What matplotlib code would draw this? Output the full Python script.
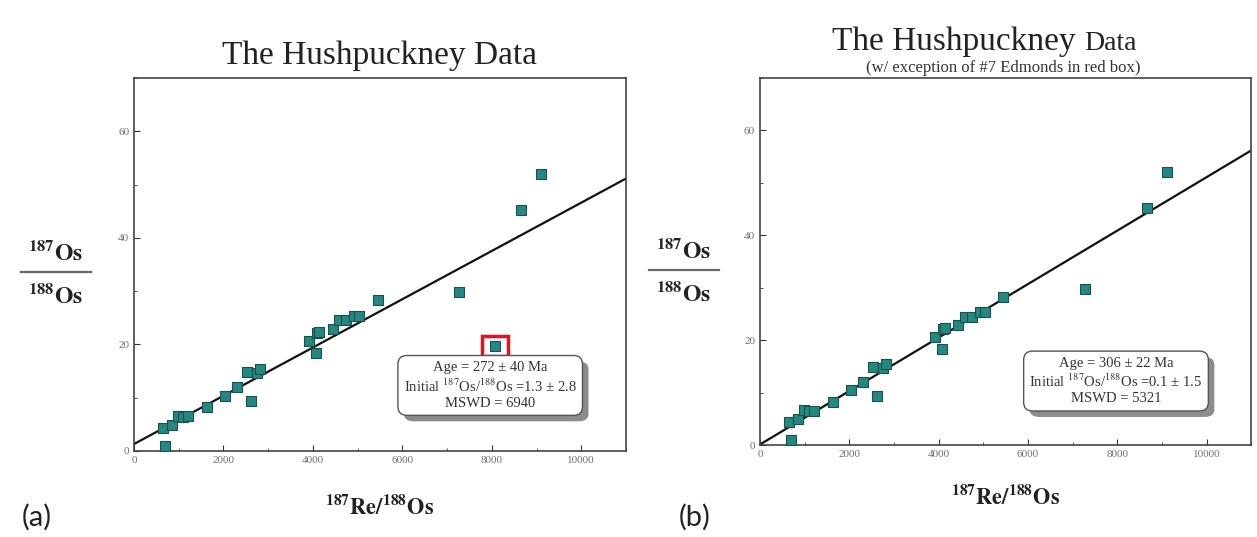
import matplotlib
matplotlib.use("Agg")
import matplotlib.pyplot as plt
from matplotlib.patches import Rectangle, FancyBboxPatch
from matplotlib.lines import Line2D
from matplotlib.ticker import MultipleLocator
import numpy as np

plt.rcParams['font.family'] = ['Liberation Serif', 'DejaVu Serif']
plt.rcParams['mathtext.fontset'] = 'stix'

# 187Re/188Os and 187Os/188Os
re_os = [656, 693, 843, 992, 1103, 1215, 1626, 2036, 2298, 2521, 2610, 2745,
         2819, 3918, 4067, 4090, 4140, 4439, 4589, 4739, 4925, 5037, 5447,
         7276, 8657, 9105]
os_os = [4.3, 0.9, 4.9, 6.6, 6.4, 6.5, 8.2, 10.4, 12.0, 14.8, 9.4, 14.7,
         15.4, 20.6, 18.3, 22.2, 22.4, 22.9, 24.5, 24.5, 25.4, 25.4, 28.3,
         29.8, 45.2, 52.0]

# sample #7 Edmonds (red box, only in panel a)
edmonds_x = 8076
edmonds_y = 19.7

# isochron fits: (intercept, slope)
fit_a = (1.3, 0.00453)
fit_b = (0.1, 0.0051)

stats_a = "Age = 272 ± 40 Ma\nInitial $^{187}$Os/$^{188}$Os =1.3 ± 2.8\nMSWD = 6940"
stats_b = "Age = 306 ± 22 Ma\nInitial $^{187}$Os/$^{188}$Os =0.1 ± 1.5\nMSWD = 5321"

teal = "#23887f"
edge = "#1d4f4b"

fig = plt.figure(figsize=(12.57, 5.37), dpi=100)
ax_a = fig.add_axes([0.1066, 0.1602, 0.3914, 0.6946])
ax_b = fig.add_axes([0.6046, 0.1713, 0.3909, 0.6834])


def style(ax):
    ax.set_xlim(0, 11000)
    ax.set_ylim(0, 70)
    ax.xaxis.set_major_locator(MultipleLocator(2000))
    ax.xaxis.set_minor_locator(MultipleLocator(1000))
    ax.yaxis.set_major_locator(MultipleLocator(20))
    ax.yaxis.set_minor_locator(MultipleLocator(10))
    ax.tick_params(which='both', direction='in', labelsize=8,
                   labelcolor='#707070', color='#333333')
    ax.tick_params(which='major', length=4)
    ax.tick_params(which='minor', length=2.5)
    for s in ax.spines.values():
        s.set_linewidth(1.2)
        s.set_color('#444444')


boxes = []
for ax, fit in ((ax_a, fit_a), (ax_b, fit_b)):
    style(ax)
    xx = np.array([0, 11000])
    ax.plot(xx, fit[0] + fit[1] * xx, color='#111111', lw=1.6, zorder=2)
    ax.scatter(re_os, os_os, marker='s', s=62, c=teal, edgecolors=edge,
               linewidths=0.8, zorder=3)

ax_a.scatter([edmonds_x], [edmonds_y], marker='s', s=62, c=teal,
             edgecolors=edge, linewidths=0.8, zorder=3)
ax_a.add_patch(Rectangle((edmonds_x - 290, edmonds_y - 1.8), 580, 3.6,
                         fill=False, ec='#e0141e', lw=2.5, zorder=4))

for ax, txt, xy in ((ax_a, stats_a, (7964, 12.3)), (ax_b, stats_b, (7970, 12.2))):
    t = ax.text(xy[0], xy[1], txt, ha='center', va='center', fontsize=10.5,
                color='#333333', linespacing=1.2, zorder=6,
                bbox=dict(boxstyle='round,pad=0.4,rounding_size=0.6',
                          fc='white', ec='#555555', lw=1))
    boxes.append((ax, t))

# titles
fig.text(0.302, 0.88, "The Hushpuckney Data", ha='center', va='baseline',
         fontsize=24, color='#222222')
fig.text(0.8625, 0.907, "The Hushpuckney ", ha='right', va='baseline',
         fontsize=24, color='#222222')
fig.text(0.8625, 0.907, "Data", ha='left', va='baseline',
         fontsize=20, color='#222222')
fig.text(0.7985, 0.866, "(w/ exception of #7 Edmonds in red box)",
         ha='center', va='baseline', fontsize=12, color='#333333')

# x labels
fig.text(0.302, 0.055, r"$\mathbf{^{187}Re/^{188}Os}$", ha='center',
         va='center', fontsize=16, color='#222222')
fig.text(0.8, 0.074, r"$\mathbf{^{187}Re/^{188}Os}$", ha='center',
         va='center', fontsize=16, color='#222222')

# y labels as fraction
for x0, yline in ((0.0445, 0.4935), (0.544, 0.497)):
    fig.text(x0, yline + 0.036, r"$\mathbf{^{187}Os}$", ha='center',
             va='center', fontsize=17, color='#222222')
    fig.text(x0, yline - 0.044, r"$\mathbf{^{188}Os}$", ha='center',
             va='center', fontsize=17, color='#222222')
    fig.add_artist(Line2D([x0 - 0.028, x0 + 0.028], [yline, yline],
                          transform=fig.transFigure, color='#666666', lw=1.6))

fig.text(0.017, 0.036, "(a)", fontsize=21, family=['Lato', 'DejaVu Sans'],
         color='#222222', va='center')
fig.text(0.54, 0.036, "(b)", fontsize=21, family=['Lato', 'DejaVu Sans'],
         color='#222222', va='center')

# drop shadows behind the stats boxes (drawn inside the axes, under the text)
fig.canvas.draw()
for ax, t in boxes:
    bb = t.get_bbox_patch().get_window_extent()
    inv = ax.transAxes.inverted()
    (x0, y0), (x1, y1) = inv.transform([[bb.x0 + 6, bb.y0 - 6], [bb.x1 + 6, bb.y1 - 6]])
    ax.add_patch(FancyBboxPatch((x0, y0), x1 - x0, y1 - y0,
                                boxstyle='round,pad=0,rounding_size=0.02',
                                transform=ax.transAxes, fc='#8c8c8c',
                                ec='none', zorder=5, clip_on=False))

fig.savefig("out.png", dpi=100)
